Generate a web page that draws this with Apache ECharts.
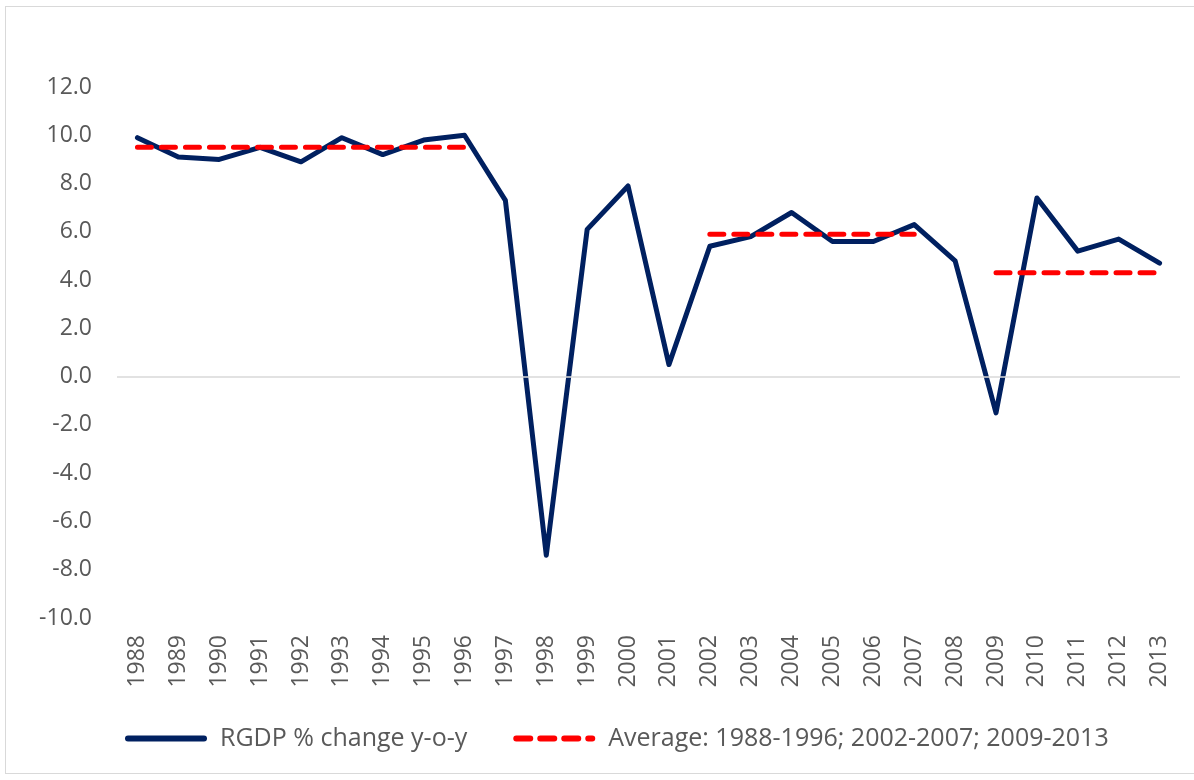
<!DOCTYPE html>
<html>
<head>
<meta charset="utf-8">
<script src="https://cdn.jsdelivr.net/npm/echarts@6/dist/echarts.min.js"></script>
<style>
  html, body { margin: 0; padding: 0; background: #fff; }
  #frame { position: absolute; left: 5px; top: 6px; width: 1195px; height: 768px; border: 1px solid #d9d9d9; box-sizing: border-box; }
  #lineChart { position: absolute; left: 0; top: 0; width: 1194px; height: 780px; }
</style>
</head>
<body>
<div id="frame"></div>
<div id="lineChart"></div>
<script>
// years on the x axis
var years = ['1988', '1989', '1990', '1991', '1992', '1993', '1994', '1995', '1996', '1997',
    '1998', '1999', '2000', '2001', '2002', '2003', '2004', '2005', '2006', '2007',
    '2008', '2009', '2010', '2011', '2012', '2013'];

// real GDP, % change year on year
var rgdp = [9.9, 9.1, 9.0, 9.5, 8.9, 9.9, 9.2, 9.8, 10.0, 7.3,
    -7.4, 6.1, 7.9, 0.5, 5.4, 5.8, 6.8, 5.6, 5.6, 6.3,
    4.8, -1.5, 7.4, 5.2, 5.7, 4.7];

// period averages (null outside the periods)
var average = [9.5, 9.5, 9.5, 9.5, 9.5, 9.5, 9.5, 9.5, 9.5, null,
    null, null, null, null, 5.9, 5.9, 5.9, 5.9, 5.9, 5.9,
    null, 4.3, 4.3, 4.3, 4.3, 4.3];

var yTicks = {min: -10, max: 12, interval: 2};

var dom = document.getElementById("lineChart");
var myChart = echarts.init(dom);
var font = '"Open Sans", sans-serif';
var option = {
    animation: false,
    textStyle: {fontFamily: font},
    grid: {left: 117, right: 14, top: 87, bottom: 162},
    legend: {
        top: 721,
        left: 120,
        itemWidth: 76,
        itemHeight: 14,
        itemGap: 46,
        itemStyle: {opacity: 0},
        lineStyle: {width: 6},
        textStyle: {fontSize: 25, color: '#595959', fontFamily: font, padding: [0, 0, 0, 11]},
        data: ['RGDP % change y-o-y', 'Average: 1988-1996; 2002-2007; 2009-2013']
    },
    xAxis: {
        type: 'category',
        data: years,
        boundaryGap: true,
        axisLine: {show: false, onZero: false},
        axisTick: {show: false},
        axisLabel: {
            rotate: 90,
            interval: 0,
            margin: 17,
            fontSize: 23,
            color: '#595959'
        }
    },
    yAxis: {
        type: 'value',
        min: yTicks.min,
        max: yTicks.max,
        interval: yTicks.interval,
        splitLine: {show: false},
        axisLine: {show: false},
        axisTick: {show: false},
        axisLabel: {
            margin: 25,
            fontSize: 23,
            color: '#595959',
            formatter: function (v) { return v.toFixed(1); }
        }
    },
    series: [{
        name: 'RGDP % change y-o-y',
        type: 'line',
        data: rgdp,
        symbol: 'none',
        z: 3,
        lineStyle: {color: '#002060', width: 5, cap: 'round', join: 'round'},
        itemStyle: {color: '#002060'},
        markLine: {
            silent: true,
            symbol: 'none',
            label: {show: false},
            lineStyle: {color: '#d9d9d9', width: 1.5, type: 'solid'},
            data: [{yAxis: 0}]
        }
    }, {
        name: 'Average: 1988-1996; 2002-2007; 2009-2013',
        type: 'line',
        data: average,
        symbol: 'none',
        connectNulls: false,
        z: 4,
        lineStyle: {color: '#ff0000', width: 5, type: [14, 10], cap: 'round'},
        itemStyle: {color: '#ff0000'}
    }]
};

if (option && typeof option === "object") {
    myChart.setOption(option, true);
}
</script>
</body>
</html>
